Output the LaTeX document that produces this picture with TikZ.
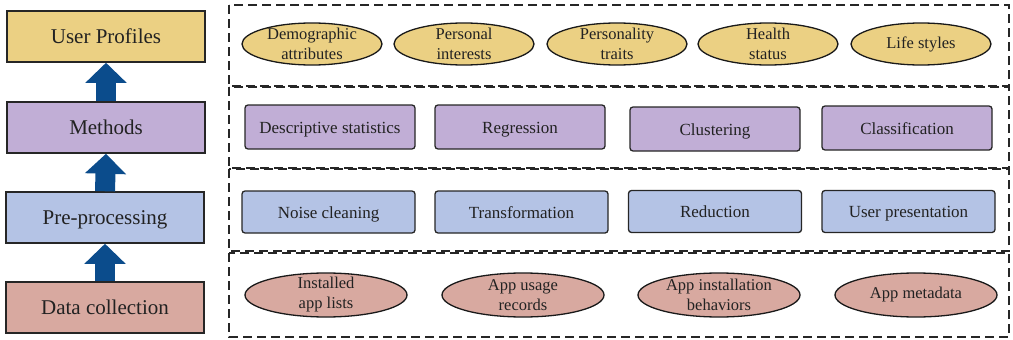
\documentclass[tikz,border=0pt]{standalone}
\usepackage{fontspec}
\setmainfont{Liberation Serif}
\usetikzlibrary{shapes.geometric,arrows.meta}
\definecolor{cyel}{HTML}{EBD083}
\definecolor{cpur}{HTML}{C1AED6}
\definecolor{cblu}{HTML}{B4C3E5}
\definecolor{cpnk}{HTML}{D8A9A0}
\definecolor{carr}{HTML}{0B4C8C}
\definecolor{ctxt}{HTML}{222222}
\begin{document}
\begin{tikzpicture}[x=1pt,y=-1pt,
  stage/.style={draw=black!85,line width=1.5pt,minimum width=198pt,minimum height=51pt,inner sep=0pt,text height=15pt,text depth=2pt,font=\fontsize{21}{24}\selectfont,text=ctxt},
  panel/.style={draw=black!85,line width=1.6pt,dash pattern=on 9pt off 5pt},
  oval/.style={ellipse,draw=black!90,line width=1.3pt,inner sep=0pt},
  ovaltxt/.style={align=center,font=\fontsize{16.5}{20}\selectfont,text=ctxt,inner sep=0pt},
  rbox/.style={draw=black!85,line width=1.3pt,rounded corners=3pt,minimum height=44pt,inner sep=0pt,text height=13pt,text depth=1pt,font=\fontsize{17}{19}\selectfont,text=ctxt},
  uparrow/.style={carr,line width=20pt,-{Triangle[width=40pt,length=20pt]}}
]
\useasboundingbox (0,0) rectangle (1013,340);
% left stages
\node[stage,fill=cyel] (up) at (106,36.5) {User Profiles};
\node[stage,fill=cpur] (me) at (106,127.5) {Methods};
\node[stage,fill=cblu] (pp) at (105,217.5) {Pre-processing};
\node[stage,fill=cpnk] (dc) at (105,307.5) {Data collection};
\draw[uparrow] (dc.north) -- (pp.south);
\draw[uparrow] (pp.north) -- (me.south);
\draw[uparrow] (me.north) -- (up.south);
% panels
\draw[panel] (229,5) rectangle (1009,86);
\draw[panel] (229,87) rectangle (1009,168);
\draw[panel] (229,169) rectangle (1009,251);
\draw[panel] (229,253) rectangle (1009,337);
% row 1
\foreach \n/\x/\t in {u1/312/{Demographic\\attributes},u2/464/{Personal\\interests},u3/617/{Personality\\traits},u4/768/{Health\\status},u5/921/{Life styles}}{
  \node[oval,fill=cyel,minimum width=140pt,minimum height=42pt,label={[ovaltxt]center:\t}] (\n) at (\x,44) {};
}
% row 2
\node[rbox,fill=cpur,minimum width=170pt] (m1) at (330,127) {Descriptive statistics};
\node[rbox,fill=cpur,minimum width=170pt] (m2) at (520,127) {Regression};
\node[rbox,fill=cpur,minimum width=170pt] (m3) at (715,129) {Clustering};
\node[rbox,fill=cpur,minimum width=170pt] (m4) at (907,128) {Classification};
% row 3
\node[rbox,fill=cblu,minimum width=173pt,minimum height=42pt] (p1) at (328.5,212) {Noise cleaning};
\node[rbox,fill=cblu,minimum width=173pt,minimum height=42pt] (p2) at (521.5,212) {Transformation};
\node[rbox,fill=cblu,minimum width=173pt,minimum height=42pt] (p3) at (715,211.5) {Reduction};
\node[rbox,fill=cblu,minimum width=173pt,minimum height=42pt] (p4) at (908.5,211.5) {User presentation};
% row 4
\foreach \n/\x/\t in {d1/326/{Installed\\app lists},d2/523/{App usage\\records},d3/719/{App installation\\behaviors},d4/916/{App metadata}}{
  \node[oval,fill=cpnk,minimum width=162pt,minimum height=44pt,label={[ovaltxt]center:\t}] (\n) at (\x,295) {};
}
\end{tikzpicture}
\end{document}
